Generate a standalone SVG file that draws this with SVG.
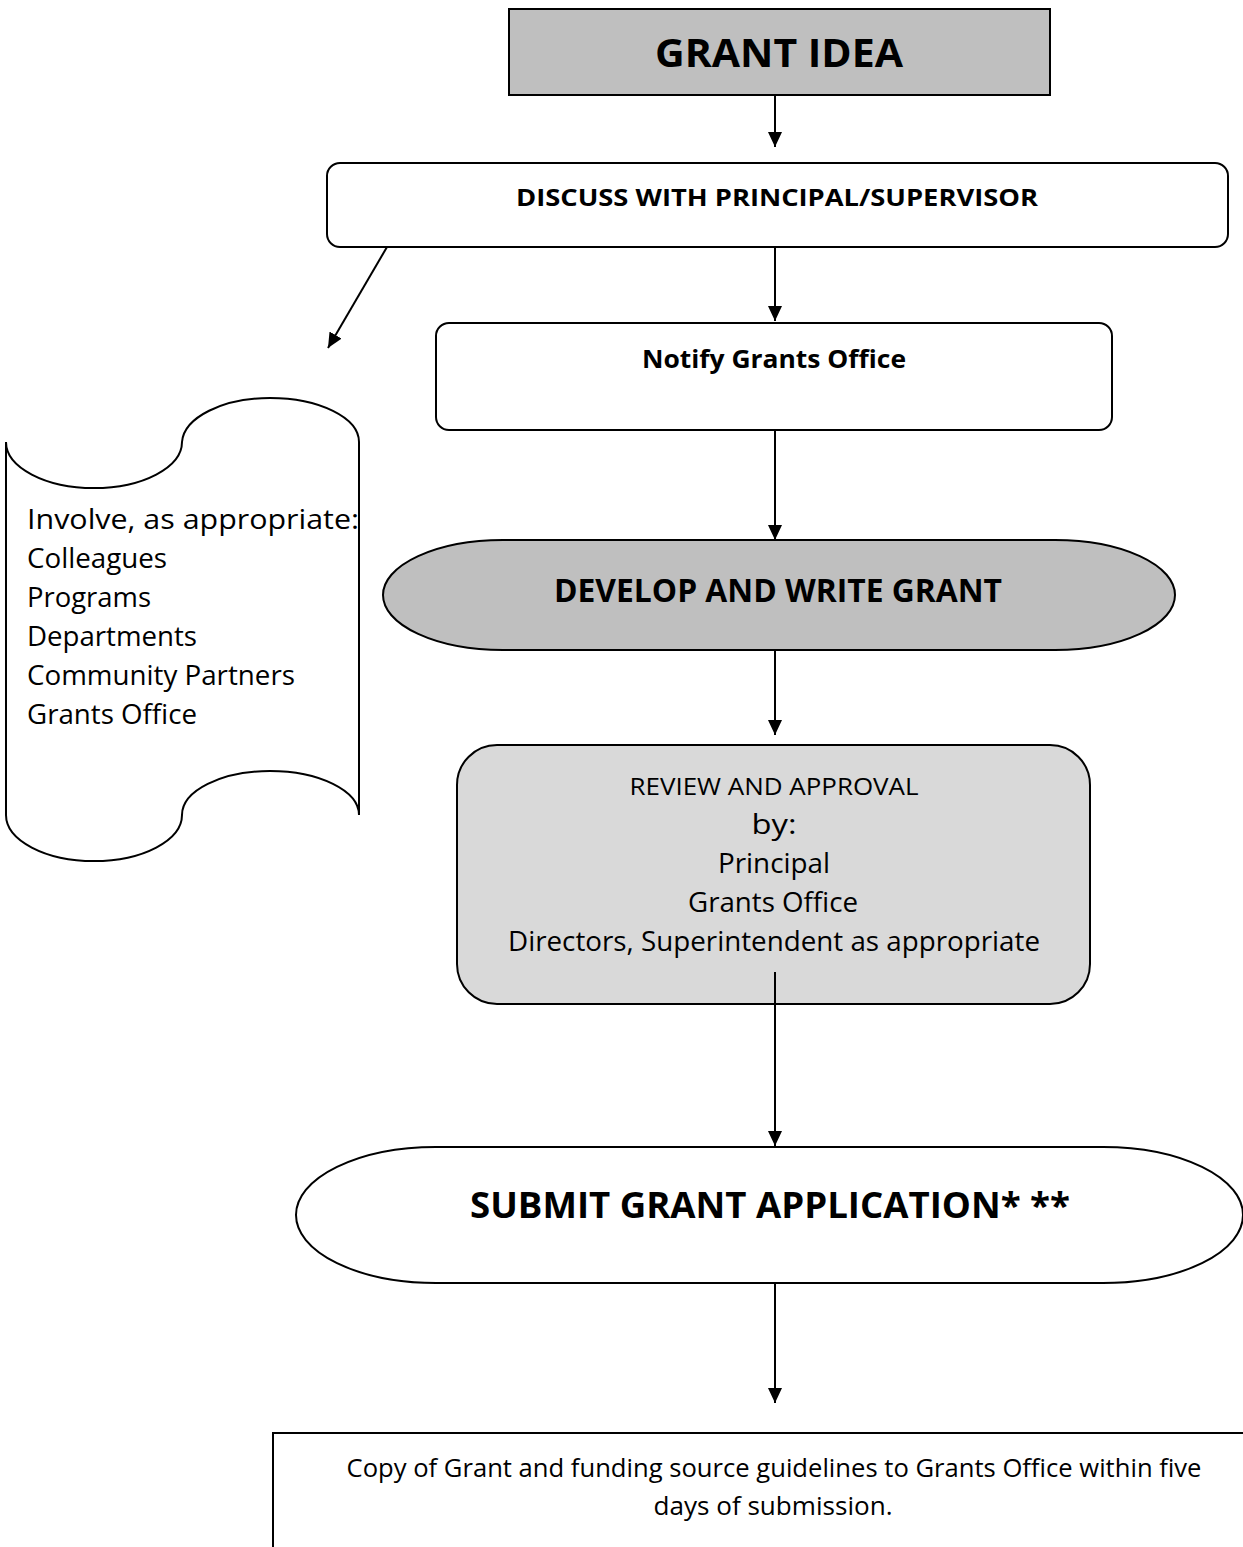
<svg xmlns="http://www.w3.org/2000/svg" width="1243" height="1547" viewBox="0 0 1243 1547">
<style>
.shape{stroke:#000;stroke-width:2;}
.t{font-family:"Open Sans","Liberation Sans",sans-serif;fill:#000;}
.b{font-weight:bold;}
.c{text-anchor:middle;}
.conn{stroke:#000;stroke-width:2;fill:none;}
</style>
<defs>
<marker id="ah" markerUnits="userSpaceOnUse" markerWidth="16" markerHeight="14" refX="15" refY="7" orient="auto">
<path d="M0,0 L15,7 L0,14 Z" fill="#000"/>
</marker>
</defs>
<rect width="1243" height="1547" fill="#fff"/>
<g id="grant-idea">
<rect class="shape" x="509" y="9" width="541" height="86" fill="#bfbfbf"/>
<text class="t b c" x="779" y="67" font-size="40" textLength="248" lengthAdjust="spacingAndGlyphs">GRANT IDEA</text>
</g>
<g id="discuss">
<rect class="shape" x="327" y="163" width="901" height="84" rx="13" fill="#fff"/>
<text class="t b c" x="777" y="206" font-size="24" textLength="522" lengthAdjust="spacingAndGlyphs">DISCUSS WITH PRINCIPAL/SUPERVISOR</text>
</g>
<g id="notify">
<rect class="shape" x="436" y="323" width="676" height="107" rx="13" fill="#fff"/>
<text class="t b c" x="774" y="368" font-size="25" textLength="264" lengthAdjust="spacingAndGlyphs">Notify Grants Office</text>
</g>
<g id="involve">
<path class="shape" fill="#fff" d="M6,442 A88,46 0 0 0 94,488 A88,46 0 0 0 182,442 A88,46 0 0 1 270,398 A89,44 0 0 1 359,442 L359,815 A89,44 0 0 0 270,771 A88,44 0 0 0 182,815 A88,46 0 0 1 94,861 A88,46 0 0 1 6,815 Z"/>
<text class="t" x="27" y="529" font-size="27" textLength="332" lengthAdjust="spacingAndGlyphs">Involve, as appropriate:</text>
<text class="t" x="27" y="568" font-size="27" textLength="140" lengthAdjust="spacingAndGlyphs">Colleagues</text>
<text class="t" x="27" y="607" font-size="27" textLength="124" lengthAdjust="spacingAndGlyphs">Programs</text>
<text class="t" x="27" y="646" font-size="27" textLength="170" lengthAdjust="spacingAndGlyphs">Departments</text>
<text class="t" x="27" y="685" font-size="27" textLength="268" lengthAdjust="spacingAndGlyphs">Community Partners</text>
<text class="t" x="27" y="724" font-size="27" textLength="170" lengthAdjust="spacingAndGlyphs">Grants Office</text>
</g>
<g id="develop">
<path class="shape" fill="#bfbfbf" d="M503,540 H1055 A120,55 0 0 1 1055,650 H503 A120,55 0 0 1 503,540 Z"/>
<text class="t b c" x="778" y="602" font-size="32" textLength="448" lengthAdjust="spacingAndGlyphs">DEVELOP AND WRITE GRANT</text>
</g>
<g id="review">
<rect class="shape" x="457" y="745" width="633" height="259" rx="40" fill="#d9d9d9"/>
<text class="t c" x="774" y="795" font-size="23" textLength="289" lengthAdjust="spacingAndGlyphs">REVIEW AND APPROVAL</text>
<text class="t c" x="774" y="834" font-size="27" textLength="45" lengthAdjust="spacingAndGlyphs">by:</text>
<text class="t c" x="774" y="873" font-size="27" textLength="112" lengthAdjust="spacingAndGlyphs">Principal</text>
<text class="t c" x="773" y="912" font-size="27" textLength="170" lengthAdjust="spacingAndGlyphs">Grants Office</text>
<text class="t c" x="774" y="951" font-size="27" textLength="532" lengthAdjust="spacingAndGlyphs">Directors, Superintendent as appropriate</text>
</g>
<g id="submit">
<path class="shape" fill="#fff" d="M436,1147 H1103 A140,68 0 0 1 1103,1283 H436 A140,68 0 0 1 436,1147 Z"/>
<text class="t b c" x="770" y="1218" font-size="36" textLength="600" lengthAdjust="spacingAndGlyphs">SUBMIT GRANT APPLICATION* **</text>
</g>
<g id="copy">
<rect class="shape" x="273" y="1433" width="1000" height="200" fill="#fff"/>
<text class="t c" x="774" y="1477" font-size="26" textLength="855" lengthAdjust="spacingAndGlyphs">Copy of Grant and funding source guidelines to Grants Office within five</text>
<text class="t c" x="773" y="1515" font-size="26" textLength="239" lengthAdjust="spacingAndGlyphs">days of submission.</text>
</g>
<g id="connectors">
<line class="conn" x1="775" y1="95" x2="775" y2="147" marker-end="url(#ah)"/>
<line class="conn" x1="775" y1="247" x2="775" y2="321" marker-end="url(#ah)"/>
<line class="conn" x1="387" y1="247" x2="328" y2="348" marker-end="url(#ah)"/>
<line class="conn" x1="775" y1="430" x2="775" y2="540" marker-end="url(#ah)"/>
<line class="conn" x1="775" y1="650" x2="775" y2="735" marker-end="url(#ah)"/>
<line class="conn" x1="775" y1="972" x2="775" y2="1146" marker-end="url(#ah)"/>
<line class="conn" x1="775" y1="1283" x2="775" y2="1403" marker-end="url(#ah)"/>
</g>
</svg>
